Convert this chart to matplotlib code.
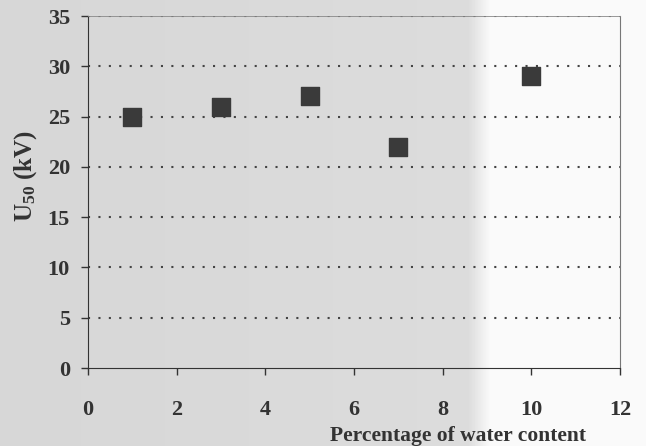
import matplotlib.pyplot as plt
import numpy as np

water = [1, 3, 5, 7, 10]
u50 = [25, 26, 27, 22, 29]
xticks = [0, 2, 4, 6, 8, 10, 12]
yticks = [0, 5, 10, 15, 20, 25, 30, 35]

plt.rcParams['font.family'] = ['Liberation Serif', 'DejaVu Serif']
plt.rcParams['mathtext.fontset'] = 'custom'
plt.rcParams['mathtext.rm'] = 'Liberation Serif:bold'
plt.rcParams['mathtext.it'] = 'Liberation Serif:bold'

fig = plt.figure(figsize=(6.46, 4.46), dpi=100)

# scanned-page shading: grey on the left, fading to white on the right
bg = fig.add_axes([0, 0, 1, 1], zorder=-10)
cols = np.linspace(0, 1, 646)
shade = np.where(cols < 0.725, 0.84 + 0.03 * cols,
                 0.86 + (cols - 0.725) / 0.035 * 0.12)
shade = np.clip(shade, 0, 0.98)
bg.imshow(np.tile(shade, (10, 1)), cmap='gray', vmin=0, vmax=1, aspect='auto',
          extent=[0, 1, 0, 1])
bg.axis('off')

ax = fig.add_axes([88 / 646, 78 / 446, 532 / 646, 352 / 446])
ax.patch.set_alpha(0)

ax.scatter(water, u50, marker='s', s=150, color='#3a3a3a', zorder=3)

ax.set_xlim(0, 12)
ax.set_ylim(0, 35)
ax.set_xticks(xticks)
ax.set_yticks(yticks)
ax.tick_params(labelsize=16, colors='#333333', length=5, width=1)
ax.tick_params(axis='x', direction='out', pad=18)
ax.tick_params(axis='y', direction='out', pad=8)
for lab in ax.get_xticklabels() + ax.get_yticklabels():
    lab.set_fontweight('bold')

for y in yticks[1:]:
    ax.axhline(y, color='#444444', linestyle=(0, (1, 4)), linewidth=1.5, zorder=1)

ax.spines['left'].set_color('#333333')
ax.spines['bottom'].set_color('#333333')
ax.spines['right'].set_color('#777777')
ax.spines['top'].set_color('#888888')
ax.spines['right'].set_linewidth(0.8)
ax.spines['top'].set_linewidth(0.6)

ax.set_ylabel('U$_{50}$ (kV)', fontsize=18, fontweight='bold', color='#333333')
ax.yaxis.set_label_coords(-0.092, 0.545)
ax.set_xlabel('Percentage of water content', fontsize=15.5, fontweight='bold',
              color='#333333')
ax.xaxis.set_label_coords(0.695, -0.165)

fig.savefig('out.png', dpi=100)
